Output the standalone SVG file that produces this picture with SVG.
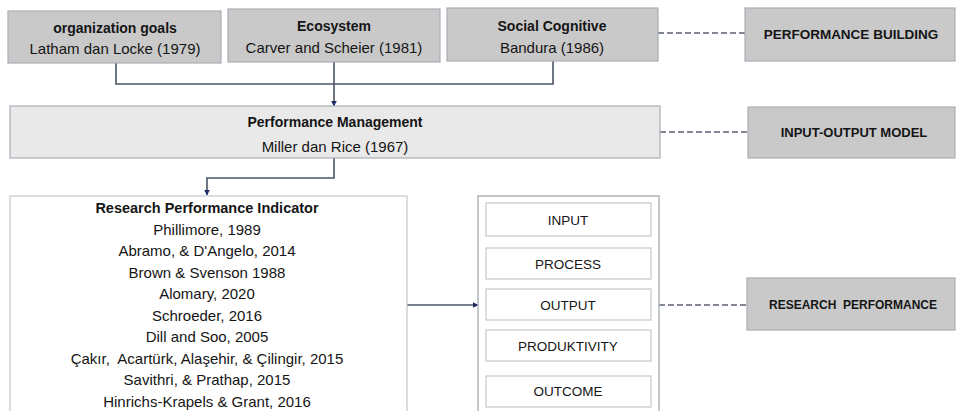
<svg xmlns="http://www.w3.org/2000/svg" width="957" height="411" viewBox="0 0 957 411">
<defs>
<style>
.t{font-family:"Liberation Sans",Arial,sans-serif;fill:#151515;text-anchor:middle}
.b{font-weight:bold}
.p{white-space:pre}
.g{fill:#c9c9c9;stroke:#a9afb6;stroke-width:1.2}
.lg{fill:#e9e9e9;stroke:#a9afb6;stroke-width:1.2}
.w{fill:#ffffff;stroke:#c4c8cc;stroke-width:1.2}
.ow{fill:#ffffff;stroke:#a9afb6;stroke-width:1.4}
.c{fill:none;stroke:#4b5565;stroke-width:1.6}
.d{fill:none;stroke:#5a6270;stroke-width:1.5;stroke-dasharray:6,3}
</style>
<marker id="ah" viewBox="0 0 10 10" refX="9" refY="5" markerWidth="6" markerHeight="6" orient="auto" markerUnits="userSpaceOnUse">
<path d="M0,0 L10,5 L0,10 z" fill="#1e2c66"/>
</marker>
</defs>
<rect width="957" height="411" fill="#ffffff"/>
<g id="connectors">
<path class="c" d="M116,63 V84 H553 V61"/>
<path class="c" d="M334,62 V106" marker-end="url(#ah)"/>
<path class="c" d="M334,158 V178 H207 V195" marker-end="url(#ah)"/>
<path class="c" d="M407,305 H478" marker-end="url(#ah)"/>
<path class="d" d="M658,33 H745"/>
<path class="d" d="M660,132 H748"/>
<path class="d" d="M659,305 H747"/>
</g>
<g id="org-goals">
<rect class="g" x="8" y="11" width="213" height="52"/>
<text class="t b" x="115" y="33" font-size="14">organization goals</text>
<text class="t" x="115" y="54" font-size="15">Latham dan Locke (1979)</text>
</g>
<g id="ecosystem">
<rect class="g" x="228" y="9" width="212" height="53"/>
<text class="t b" x="334" y="31" font-size="14">Ecosystem</text>
<text class="t" x="334" y="53" font-size="15">Carver and Scheier (1981)</text>
</g>
<g id="social-cognitive">
<rect class="g" x="447" y="8" width="211" height="53"/>
<text class="t b" x="552" y="31" font-size="14">Social Cognitive</text>
<text class="t" x="552" y="53" font-size="15">Bandura (1986)</text>
</g>
<g id="performance-building">
<rect class="g" x="745" y="8" width="210" height="53"/>
<text class="t b" x="851" y="39" font-size="13.5">PERFORMANCE BUILDING</text>
</g>
<g id="performance-management">
<rect class="lg" x="10" y="106" width="650" height="52"/>
<text class="t b" x="335" y="127" font-size="14">Performance Management</text>
<text class="t" x="335" y="152" font-size="15">Miller dan Rice (1967)</text>
</g>
<g id="input-output-model">
<rect class="g" x="748" y="107" width="207" height="51"/>
<text class="t b" x="854" y="137" font-size="13">INPUT-OUTPUT MODEL</text>
</g>
<g id="research-performance-indicator">
<rect class="w" x="10" y="196" width="397" height="230"/>
<text class="t b" x="207" y="213" font-size="14.5">Research Performance Indicator</text>
<text class="t" x="207" y="234.5" font-size="15">Phillimore, 1989</text>
<text class="t" x="207" y="256" font-size="15">Abramo, &amp; D'Angelo, 2014</text>
<text class="t" x="207" y="277.5" font-size="15">Brown &amp; Svenson 1988</text>
<text class="t" x="207" y="299" font-size="15">Alomary, 2020</text>
<text class="t" x="207" y="320.5" font-size="15">Schroeder, 2016</text>
<text class="t" x="207" y="342" font-size="15">Dill and Soo, 2005</text>
<text class="t p" x="207" y="363.5" font-size="15" xml:space="preserve">Çakır,  Acartürk, Alaşehir, &amp; Çilingir, 2015</text>
<text class="t" x="207" y="385" font-size="15">Savithri, &amp; Prathap, 2015</text>
<text class="t" x="207" y="406.5" font-size="15">Hinrichs-Krapels &amp; Grant, 2016</text>
</g>
<g id="io-stack">
<rect class="ow" x="478" y="196" width="181" height="230"/>
</g>
<g id="input">
<rect class="w" x="486" y="203" width="165" height="33"/>
<text class="t" x="568" y="225" font-size="13.5">INPUT</text>
</g>
<g id="process">
<rect class="w" x="486" y="248" width="165" height="31"/>
<text class="t" x="568" y="269" font-size="13.5">PROCESS</text>
</g>
<g id="output">
<rect class="w" x="486" y="289" width="165" height="31"/>
<text class="t" x="568" y="310" font-size="13.5">OUTPUT</text>
</g>
<g id="produktivity">
<rect class="w" x="486" y="330" width="165" height="31"/>
<text class="t" x="568" y="351" font-size="13.5">PRODUKTIVITY</text>
</g>
<g id="outcome">
<rect class="w" x="486" y="376" width="165" height="31"/>
<text class="t" x="568" y="396" font-size="13.5">OUTCOME</text>
</g>
<g id="research-performance">
<rect class="g" x="747" y="278" width="208" height="52"/>
<text class="t b p" x="853" y="309" font-size="12" xml:space="preserve">RESEARCH  PERFORMANCE</text>
</g>
</svg>
